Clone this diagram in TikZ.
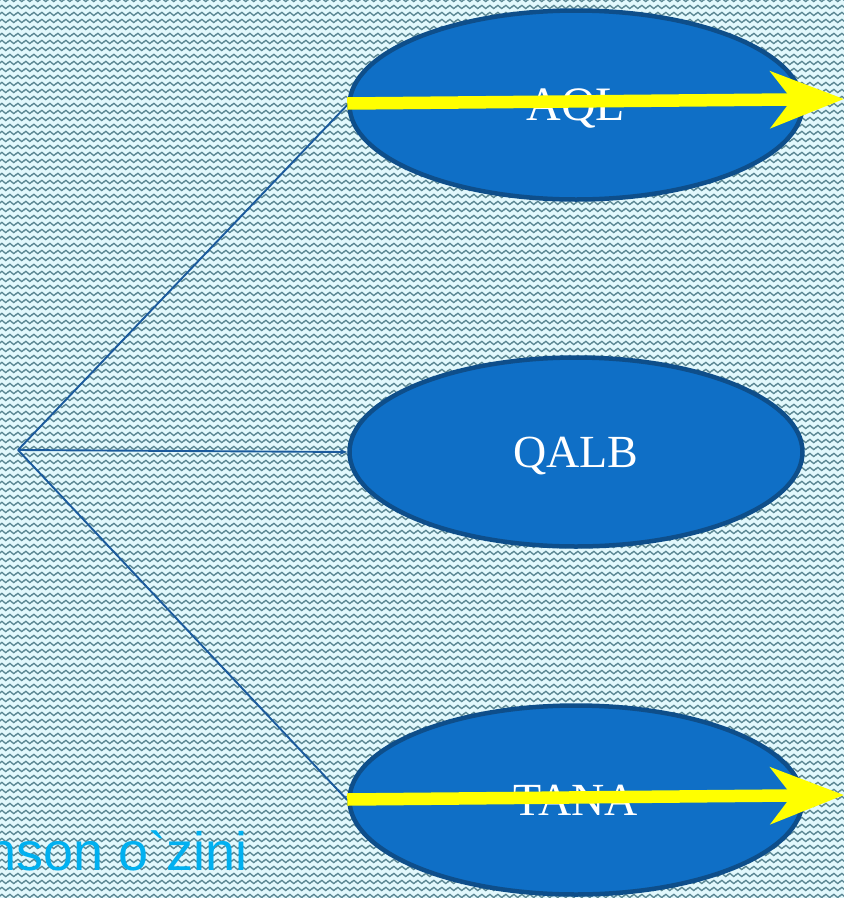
\documentclass[tikz,border=0pt]{standalone}
\usepackage{fontspec}
\setmainfont{Liberation Serif}
\newfontfamily\sansf[Ligatures=TeXOff]{Liberation Sans}
\usetikzlibrary{shapes.geometric,arrows.meta,patterns}

\definecolor{bgcyan}{HTML}{E2F8FC}
\definecolor{zigline}{HTML}{5A8692}
\definecolor{ovalfill}{HTML}{0F6FC6}
\definecolor{ovaledge}{HTML}{0E4E8A}
\definecolor{linkblue}{HTML}{1A5A9C}
\definecolor{txtcyan}{HTML}{00B0F0}
\definecolor{arrowyellow}{HTML}{FFFF00}

% zigzag texture of the backdrop
\pgfdeclarepatternformonly{waves}{\pgfpointorigin}{\pgfpoint{7.8pt}{6.67pt}}{\pgfpoint{7.8pt}{6.67pt}}{
  \pgfsetlinewidth{1.35pt}
  \pgfpathmoveto{\pgfpoint{-1.95pt}{1.5pt}}
  \pgfpathlineto{\pgfpoint{1.95pt}{4.9pt}}
  \pgfpathlineto{\pgfpoint{5.85pt}{1.5pt}}
  \pgfpathlineto{\pgfpoint{9.75pt}{4.9pt}}
  \pgfusepath{stroke}}

\tikzset{
  oval/.style={ellipse, draw=ovaledge, line width=4.5pt, fill=ovalfill,
    minimum width=453pt, minimum height=189pt, inner sep=0pt,
    text=white, text depth=0pt, font=\fontsize{46}{54}\selectfont},
  link/.style={draw=linkblue, line width=1.9pt},
  yarrow/.style={draw=arrowyellow, line width=12.5pt,
    -{Stealth[length=73pt,width=56pt,inset=21pt]}},
  caption/.style={anchor=base west, inner sep=0pt, text=txtcyan,
    font=\sansf\fontsize{54}{60}\selectfont}
}

\begin{document}
\begin{tikzpicture}[x=1pt,y=-1pt]
  \useasboundingbox (0,0) rectangle (844,898);
  \clip (0,0) rectangle (844,898);
  \fill[bgcyan] (0,0) rectangle (844,898);
  \fill[pattern=waves, pattern color=zigline] (0,0) rectangle (844,898);

  % the three ovals
  \node[oval] (aql) at (576,105) {};
  \node[oval] (qalb) at (576,452) {QALB};
  \node[oval] (tana) at (576,800) {};
  \node[oval, draw=none, fill=none, font=\fontsize{48}{56}\selectfont] (aqltxt) at (aql.center) {AQL};
  \node[oval, draw=none, fill=none] (tanatxt) at (tana.center) {TANA};

  % connectors from the common point
  \coordinate (hub) at (18,450);
  \draw[link] (hub) -- (aql.west);
  \draw[link, -{Stealth[length=8pt,width=6pt]}] (hub) -- (qalb.west);
  \draw[link] (hub) -- (tana.west);

  % yellow arrows leaving to the right
  \coordinate (aqlout) at (844,99);
  \coordinate (tanaout) at (844,795);
  \draw[yarrow] ([yshift=1.5pt]aql.west) -- (aqlout);
  \draw[yarrow] ([yshift=0.5pt]tana.west) -- (tanaout);

  % caption in the lower left corner
  \node[caption] (cap) at (-14,870) {nson o`zini};
\end{tikzpicture}
\end{document}
